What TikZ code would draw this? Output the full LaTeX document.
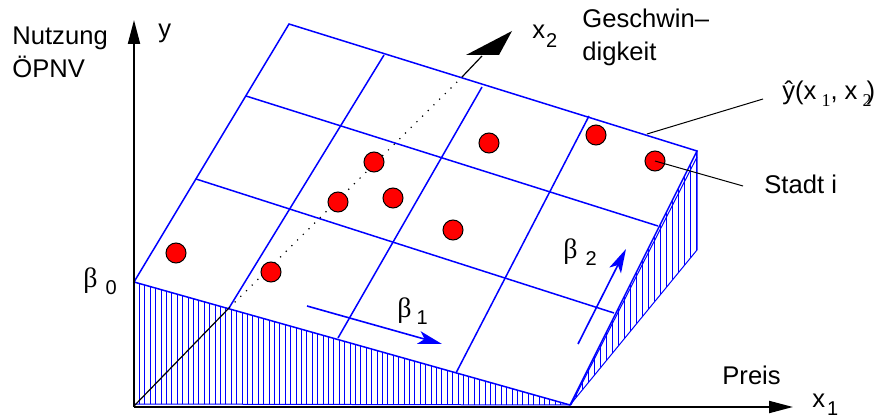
\documentclass[tikz,border=0pt]{standalone}
\usepackage{fontspec}
\setmainfont{Liberation Sans}
\newfontfamily\grkfont{Liberation Serif}
\usetikzlibrary{arrows.meta,calc}
\newcommand{\lowsub}[2][3.5pt]{\raisebox{-#1}{\fontsize{10}{12}\selectfont #2}}
\newcommand{\grk}{{\grkfont\fontsize{14}{16}\selectfont β}}
\begin{document}
\begin{tikzpicture}[x=0.5pt,y=-0.5pt,
   every node/.style={font=\fontsize{12.8}{16.5}\selectfont,inner sep=0pt},
   grid/.style={draw=blue,line width=0.75pt},
   hatch/.style={draw=blue,line width=0.5pt},
   axis/.style={draw=black,line width=1pt,-{Triangle[length=12pt,width=6pt]}},
   city/.style={circle,draw=black,fill=red,line width=0.5pt,minimum size=10pt},
   coef/.style={draw=blue,line width=0.8pt,-{Stealth[length=12pt,width=6.5pt,inset=3pt]}},
   leader/.style={draw=black,line width=0.5pt}]
\useasboundingbox (0,0) rectangle (885,417);
% corners of the fitted plane
\coordinate (O)  at (134,406);
\coordinate (A)  at (134,282);
\coordinate (B)  at (570,405);
\coordinate (C)  at (697,151);
\coordinate (D)  at (289,24);
\coordinate (Cf) at (697,250);
% front wall hatching
\begin{scope}
  \clip (A) -- (B) -- (134,404) -- cycle;
  \foreach \x in {134,139.4,...,572} \draw[hatch] (\x,405) -- (\x,280);
\end{scope}
\draw[hatch] (134,404) -- (B);
% side wall hatching
\begin{scope}
  \clip (B) -- (C) -- (Cf) -- cycle;
  \foreach \x in {570,576,...,698} \draw[hatch] (\x,406) -- (\x,150);
\end{scope}
\draw[hatch] (B) -- (Cf) -- (C);
\draw[hatch] (571,405) -- (697,157);
% plane with grid
\draw[grid] (A) -- (B) -- (C) -- (D) -- cycle;
\foreach \p/\q in {{196,179}/{614,313},{246,96}/{658,226},
                   {229,308}/{384,55},{338,338}/{482,87},{456,373}/{589,116}}
  \draw[grid] (\p) -- (\q);
% x2 axis, hidden part dotted
\coordinate (X2a) at (229,308);
\coordinate (X2b) at (462,77);
\coordinate (X2c) at (482,56);
\draw[line width=0.6pt] (O) -- (X2a);
\draw[line width=0.6pt,dash pattern=on 0.6pt off 3.4pt] (X2a) -- (X2b);
\draw[line width=0.6pt] (X2b) -- (X2c);
\fill (466,55) -- (512,31) -- (499,55) -- cycle;
% y and x1 axes
\draw[axis] (134,407) -- (134,20);
\draw[axis] (134,407) -- (793,407);
% cities
\node[city] (s1) at (176,253) {};
\node[city] (s2) at (271,272) {};
\node[city] (s3) at (338,202) {};
\node[city] (s4) at (374,162) {};
\node[city] (s5) at (393,198) {};
\node[city] (s6) at (489,143) {};
\node[city] (s7) at (453,230) {};
\node[city] (s8) at (596,135) {};
\node[city] (s9) at (655,161) {};
% slopes
\coordinate (b1s) at (307,306);
\coordinate (b1e) at (442,344);
\coordinate (b2s) at (578,344);
\coordinate (b2e) at (626,249);
\draw[coef] (b1s) -- (b1e);
\draw[coef] (b2s) -- (b2e);
% labels
\node[anchor=north west,align=left] (use) at (12,26) {Nutzung\\ÖPNV};
\node[anchor=base west] (ylab) at (158,38) {y};
\node[anchor=base west] (x2lab) at (532,39) {x\kern0.5pt\lowsub[4.5pt]{2}};
\node[anchor=north west,align=left] (speed) at (582,9) {Geschwin–\\digkeit};
\node[anchor=base west] (yhat) at (782,100)
  {ŷ(x\kern2.5pt\lowsub{\grkfont\fontsize{9}{10}\selectfont 1}, x\kern2.5pt\lowsub{\grkfont\fontsize{9}{10}\selectfont 2}\kern-2.5pt)};
\node[anchor=base west] (stadt) at (764,194) {Stadt i};
\node[anchor=base west] (b0) at (83,288) {\grk\kern4pt\lowsub{0}};
\node[anchor=base west] (b1) at (397,318) {\grk\kern2.5pt\lowsub{1}};
\node[anchor=base west] (b2) at (563,258) {\grk\kern4pt\lowsub{2}};
\node[anchor=base west] (preis) at (722,385) {Preis};
\node[anchor=base west] (x1lab) at (812,408) {x\kern1pt\lowsub[4pt]{1}};
% leaders
\coordinate (edgept) at (647,134);
\draw[leader] (edgept) -- ($(yhat.base west)+(-19,-1)$);
\draw[leader] (s9.center) -- ($(stadt.base west)+(-21,-8)$);
\end{tikzpicture}
\end{document}
